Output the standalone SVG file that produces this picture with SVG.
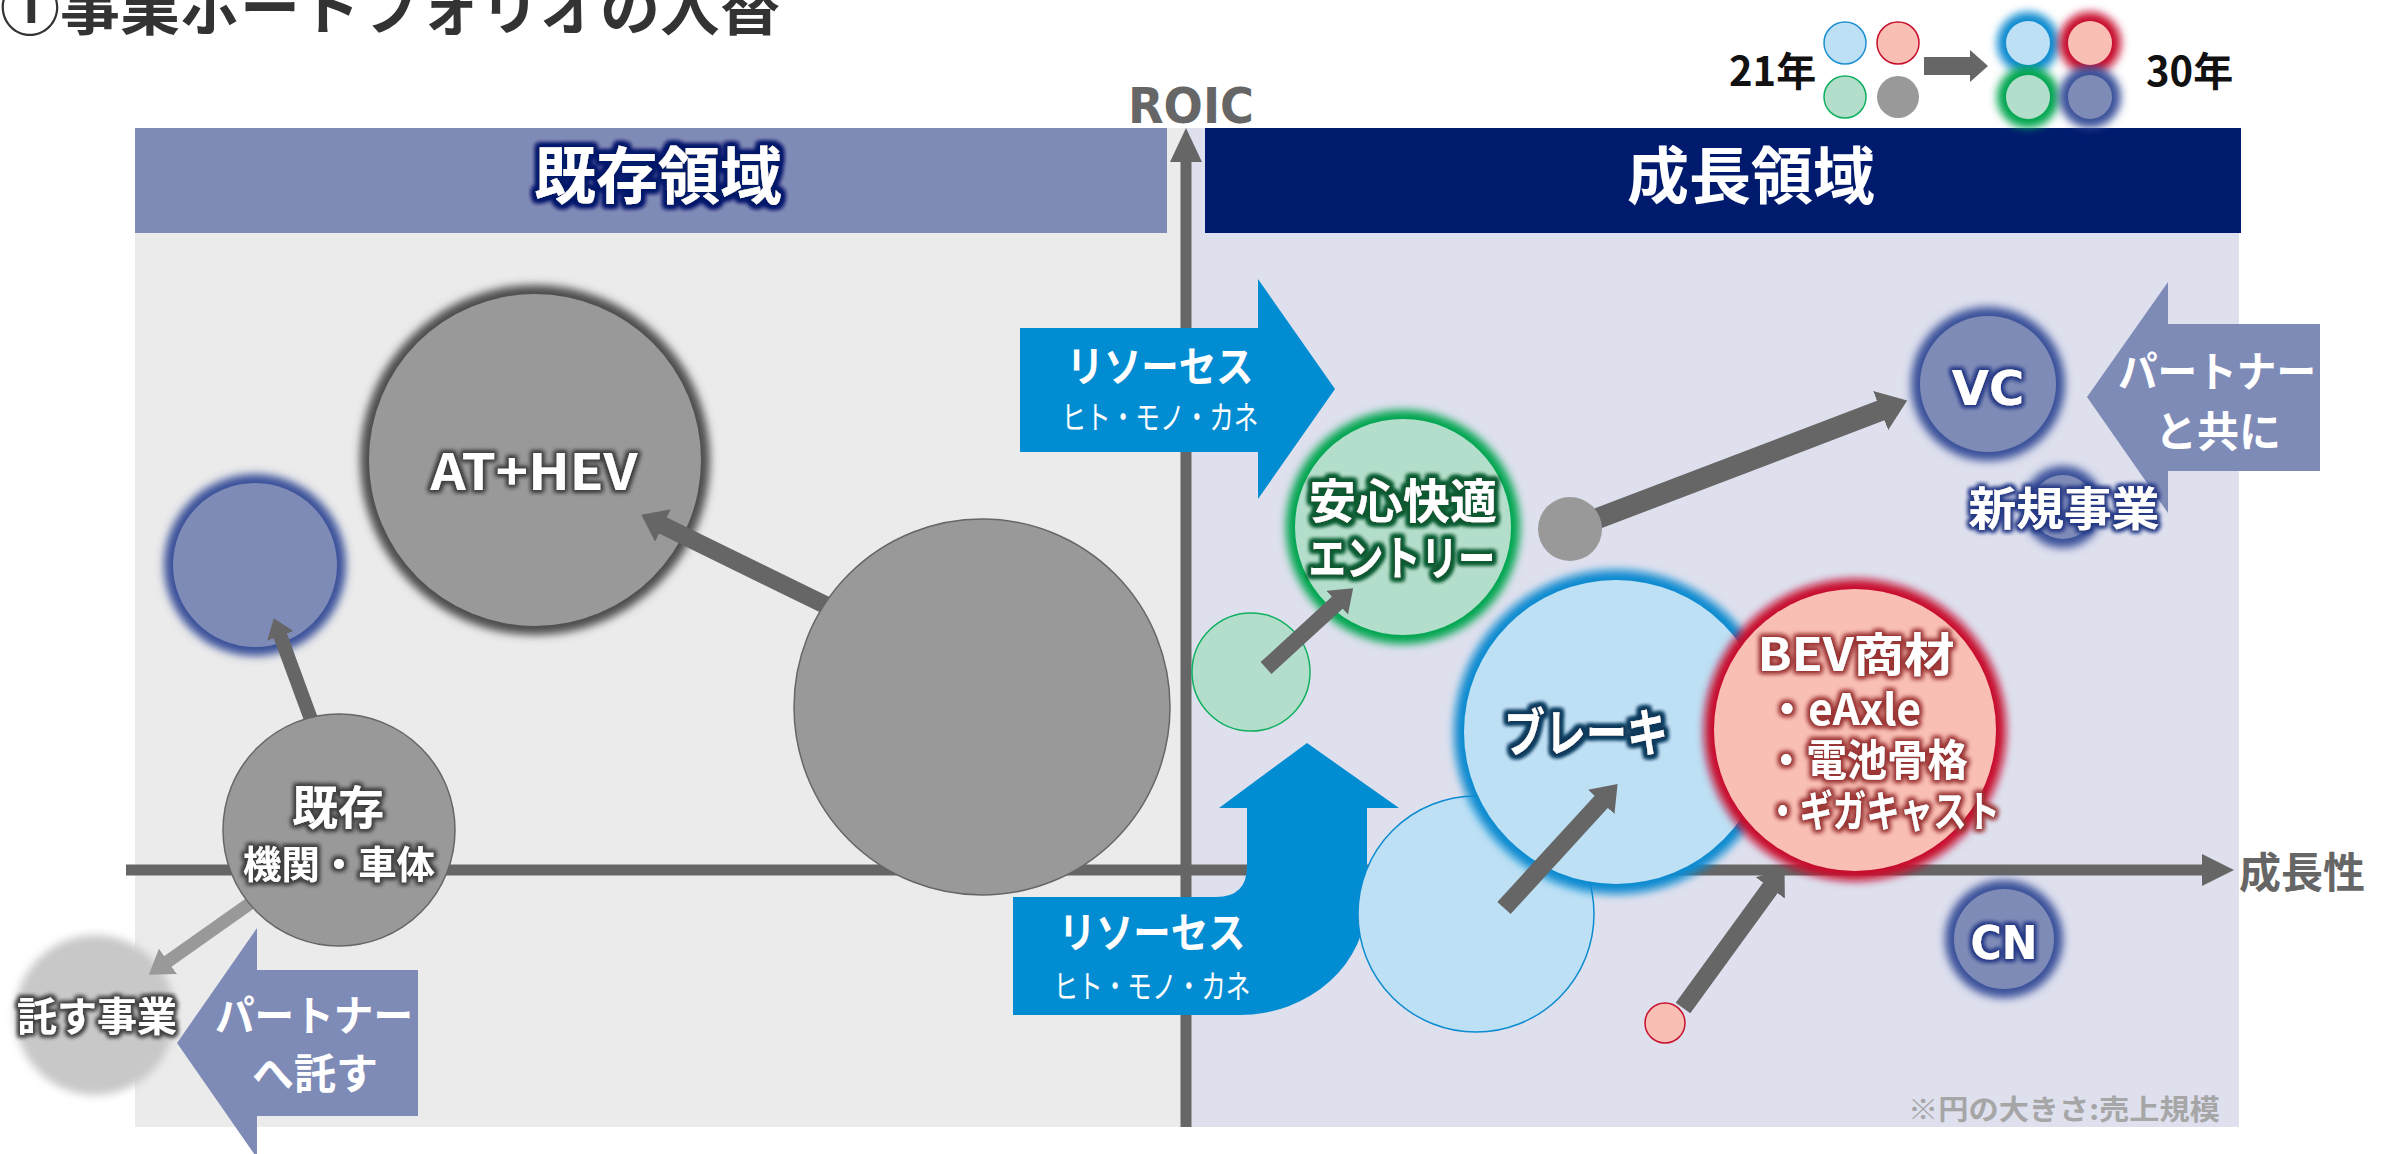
<svg xmlns="http://www.w3.org/2000/svg" width="2389" height="1154" viewBox="0 0 2389 1154">
<defs>
<style>
text { font-family: "Noto Sans CJK JP", "Noto Sans", sans-serif; font-weight: 700; }
.w { fill: #ffffff; }
.c { text-anchor: middle; }
.lat { font-family: "DejaVu Sans", "Noto Sans", sans-serif; font-weight: 700; }
.axis { stroke: #666666; stroke-width: 11; fill: none; }
.arr { stroke: #666666; fill: none; marker-end: url(#ah); }
.arrl { stroke: #999999; fill: none; marker-end: url(#ahl); }
.glow { filter: url(#blur); }
.res { fill: #028CD2; }
.partner { fill: #7F8BB7; }
</style>
<filter id="blur" x="-40%" y="-40%" width="180%" height="180%"><feGaussianBlur stdDeviation="4"/></filter>
<filter id="tGray" x="-15%" y="-40%" width="130%" height="180%">
<feMorphology in="SourceAlpha" operator="dilate" radius="2" result="d"/><feGaussianBlur in="d" stdDeviation="2" result="b"/>
<feFlood flood-color="#404040" result="f"/><feComposite in="f" in2="b" operator="in" result="g"/>
<feMerge><feMergeNode in="g"/><feMergeNode in="g"/><feMergeNode in="SourceGraphic"/></feMerge></filter>
<filter id="tNavy" x="-15%" y="-40%" width="130%" height="180%">
<feMorphology in="SourceAlpha" operator="dilate" radius="3" result="d"/><feGaussianBlur in="d" stdDeviation="2.5" result="b"/>
<feFlood flood-color="#061A6A" result="f"/><feComposite in="f" in2="b" operator="in" result="g"/>
<feMerge><feMergeNode in="g"/><feMergeNode in="g"/><feMergeNode in="g"/><feMergeNode in="SourceGraphic"/></feMerge></filter>
<filter id="tNavy2" x="-15%" y="-40%" width="130%" height="180%">
<feMorphology in="SourceAlpha" operator="dilate" radius="2" result="d"/><feGaussianBlur in="d" stdDeviation="2" result="b"/>
<feFlood flood-color="#263A86" result="f"/><feComposite in="f" in2="b" operator="in" result="g"/>
<feMerge><feMergeNode in="g"/><feMergeNode in="g"/><feMergeNode in="SourceGraphic"/></feMerge></filter>
<filter id="tGreen" x="-15%" y="-40%" width="130%" height="180%">
<feMorphology in="SourceAlpha" operator="dilate" radius="2.5" result="d"/><feGaussianBlur in="d" stdDeviation="2" result="b"/>
<feFlood flood-color="#0B5A32" result="f"/><feComposite in="f" in2="b" operator="in" result="g"/>
<feMerge><feMergeNode in="g"/><feMergeNode in="g"/><feMergeNode in="g"/><feMergeNode in="SourceGraphic"/></feMerge></filter>
<filter id="tBlue" x="-15%" y="-40%" width="130%" height="180%">
<feMorphology in="SourceAlpha" operator="dilate" radius="3" result="d"/><feGaussianBlur in="d" stdDeviation="2" result="b"/>
<feFlood flood-color="#0C3A5C" result="f"/><feComposite in="f" in2="b" operator="in" result="g"/>
<feMerge><feMergeNode in="g"/><feMergeNode in="g"/><feMergeNode in="g"/><feMergeNode in="SourceGraphic"/></feMerge></filter>
<filter id="tRed" x="-15%" y="-40%" width="130%" height="180%">
<feMorphology in="SourceAlpha" operator="dilate" radius="2" result="d"/><feGaussianBlur in="d" stdDeviation="2.5" result="b"/>
<feFlood flood-color="#9A3434" result="f"/><feComposite in="f" in2="b" operator="in" result="g"/>
<feMerge><feMergeNode in="g"/><feMergeNode in="g"/><feMergeNode in="SourceGraphic"/></feMerge></filter>
<marker id="ah" viewBox="0 -5 10 10" refX="0.5" refY="0" markerWidth="1.35" markerHeight="2.0" orient="auto" preserveAspectRatio="none"><path d="M0,-5 L10,0 L0,5 Z" fill="#666666"/></marker>
<marker id="ahl" viewBox="0 -5 10 10" refX="0.5" refY="0" markerWidth="1.8" markerHeight="2.4" orient="auto" preserveAspectRatio="none"><path d="M0,-5 L10,0 L0,5 Z" fill="#999999"/></marker>
</defs>

<g id="background">
<rect x="135" y="128" width="1051" height="999" fill="#EBEBEB"/>
<rect x="1186" y="128" width="1053" height="999" fill="#DEE0EE"/>
</g>

<g id="header-existing">
<rect x="135" y="128" width="1032" height="105" fill="#7F8BB7"/>
<text class="w c" x="658" y="199" font-size="62" filter="url(#tNavy)">既存領域</text>
</g>
<g id="header-growth">
<rect x="1205" y="128" width="1036" height="105" fill="#001A6E"/>
<text class="w c" x="1751" y="199" font-size="62">成長領域</text>
</g>

<g id="axes">
<line class="axis" x1="126" y1="870" x2="2203" y2="870"/>
<path d="M2202,854 L2234,870 L2202,886 Z" fill="#666666"/>
<line class="axis" x1="1186" y1="1127" x2="1186" y2="161"/>
<path d="M1170,162 L1186,128 L1202,162 Z" fill="#666666"/>
<text class="lat" x="1128" y="123" font-size="49" fill="#666666" textLength="126" lengthAdjust="spacingAndGlyphs">ROIC</text>
<text x="2239" y="888" font-size="42" fill="#666666">成長性</text>
</g>

<g id="title">
<text x="0" y="30" font-size="60" fill="#333333">①事業ポートフォリオの入替</text>
</g>

<g id="legend">
<text x="1729" y="86" font-size="40" fill="#111111">21年</text>
<circle cx="1845" cy="43" r="21" fill="#BDE0F5" stroke="#1E90D0" stroke-width="1.5"/>
<circle cx="1898" cy="43" r="21" fill="#F9BFB4" stroke="#C8102E" stroke-width="1.5"/>
<circle cx="1845" cy="97" r="21" fill="#B3DECB" stroke="#10B060" stroke-width="1.5"/>
<circle cx="1898" cy="97" r="21" fill="#999999"/>
<path d="M1924,57 H1970 V50 L1988,66 L1970,82 V75 H1924 Z" fill="#666666"/>
<circle class="glow" cx="2028" cy="43" r="31" fill="#0B8BD0"/>
<circle class="glow" cx="2090" cy="43" r="31" fill="#C8102E"/>
<circle class="glow" cx="2028" cy="97" r="31" fill="#00A650"/>
<circle class="glow" cx="2090" cy="97" r="31" fill="#3B519A"/>
<circle cx="2028" cy="43" r="22" fill="#BDE0F5"/>
<circle cx="2090" cy="43" r="22" fill="#F9BFB4"/>
<circle cx="2028" cy="97" r="22" fill="#B3DECB"/>
<circle cx="2090" cy="97" r="22" fill="#7F8BB7"/>
<text x="2146" y="86" font-size="40" fill="#111111">30年</text>
</g>

<g id="note">
<text x="1908" y="1120" font-size="28" fill="#A6A6A6" textLength="312" lengthAdjust="spacingAndGlyphs">※円の大きさ:売上規模</text>
</g>

<g id="resource-arrow-1">
<path class="res" d="M1020,328 H1258 V279 L1335,389 L1258,499 V452 H1020 Z"/>
<text class="w c" x="1160" y="382" font-size="42" textLength="187" lengthAdjust="spacingAndGlyphs">リソーセス</text>
<text class="w c" x="1160" y="429" font-size="32" style="font-weight:400" textLength="197" lengthAdjust="spacingAndGlyphs">ヒト・モノ・カネ</text>
</g>
<g id="resource-arrow-2">
<path class="res" d="M1013,897 H1216 Q1247,897 1247,866 V808 H1219 L1307,743 L1399,808 H1367 V900 A127,115 0 0 1 1240,1015 H1013 Z"/>
<text class="w c" x="1152" y="948" font-size="42" textLength="187" lengthAdjust="spacingAndGlyphs">リソーセス</text>
<text class="w c" x="1152" y="998" font-size="32" style="font-weight:400" textLength="197" lengthAdjust="spacingAndGlyphs">ヒト・モノ・カネ</text>
</g>

<g id="partner-left">
<path class="partner" d="M177,1043 L257,928 V970 H418 V1116 H257 V1158 Z"/>
<text class="w c" x="314" y="1031" font-size="42" textLength="198" lengthAdjust="spacingAndGlyphs">パートナー</text>
<text class="w c" x="315" y="1089" font-size="42">へ託す</text>
</g>
<g id="partner-right">
<path class="partner" d="M2087,397 L2168,282 V324 H2320 V471 H2168 V513 Z"/>
<text class="w c" x="2217" y="387" font-size="42" textLength="198" lengthAdjust="spacingAndGlyphs">パートナー</text>
<text class="w c" x="2218" y="447" font-size="42">と共に</text>
</g>

<g id="node-entrust">
<circle cx="95" cy="1015" r="80" fill="#C8C8C8" filter="url(#blur)"/>
<text class="w c" x="97" y="1031" font-size="40" filter="url(#tGray)">託す事業</text>
</g>
<g id="node-existing-future">
<circle class="glow" cx="255" cy="565" r="91" fill="#3B519A"/>
<circle cx="255" cy="565" r="82" fill="#7F8BB7"/>
</g>
<g id="node-at-hev">
<circle class="glow" cx="535" cy="460" r="175" fill="#4D4D4D"/>
<circle cx="535" cy="460" r="166" fill="#999999"/>
<text class="w c" x="534" y="490" font-size="50" textLength="207" lengthAdjust="spacingAndGlyphs" filter="url(#tGray)">AT+HEV</text>
</g>

<g id="node-comfort-21">
<circle cx="1251" cy="672" r="59" fill="#B3DECB" stroke="#10B060" stroke-width="1.5"/>
</g>
<g id="node-comfort-30">
<circle class="glow" cx="1403" cy="527" r="117" fill="#00A650"/>
<circle cx="1403" cy="527" r="108" fill="#B3DECB"/>
<text class="w c" x="1403" y="518" font-size="47" filter="url(#tGreen)">安心快適</text>
<text class="w c" x="1402" y="575" font-size="47" textLength="187" lengthAdjust="spacingAndGlyphs" filter="url(#tGreen)">エントリー</text>
</g>
<g id="node-vc">
<circle class="glow" cx="1988" cy="384" r="77" fill="#3B519A"/>
<circle cx="1988" cy="384" r="68" fill="#7F8BB7"/>
<text class="w c lat" x="1988" y="405" font-size="48" filter="url(#tNavy2)">VC</text>
</g>
<g id="node-new-business">
<circle class="glow" cx="2063" cy="507" r="41" fill="#3B519A"/>
<circle cx="2063" cy="507" r="32" fill="#7F8BB7"/>
<text class="w c" x="2064" y="525" font-size="46" textLength="191" lengthAdjust="spacingAndGlyphs" filter="url(#tNavy2)">新規事業</text>
</g>
<g id="node-cn">
<circle class="glow" cx="2004" cy="939" r="59" fill="#3B519A"/>
<circle cx="2004" cy="939" r="50" fill="#7F8BB7"/>
<text class="w c lat" x="2004" y="959" font-size="46" textLength="67" lengthAdjust="spacingAndGlyphs" filter="url(#tNavy2)">CN</text>
</g>
<g id="node-brake-21">
<circle cx="1476" cy="914" r="118" fill="#BDE0F5" stroke="#0B8BD0" stroke-width="1.5"/>
</g>
<g id="node-brake-30">
<circle class="glow" cx="1616" cy="732" r="162" fill="#0B8BD0"/>
<circle cx="1616" cy="732" r="152" fill="#BDE0F5"/>
<text class="w c" x="1586" y="752" font-size="52" textLength="164" lengthAdjust="spacingAndGlyphs" filter="url(#tBlue)">ブレーキ</text>
</g>
<g id="node-bev-21">
<circle cx="1665" cy="1023" r="20" fill="#F9BFB4" stroke="#C8102E" stroke-width="1.5"/>
</g>
<g id="node-bev-30">
<circle class="glow" cx="1855" cy="730" r="151" fill="#C8102E"/>
<circle cx="1855" cy="730" r="141" fill="#F9BFB4"/>
<text class="w c" x="1856" y="671" font-size="46" textLength="197" lengthAdjust="spacingAndGlyphs" filter="url(#tRed)">BEV商材</text>
<text class="w" x="1766" y="725" font-size="43" textLength="155" lengthAdjust="spacingAndGlyphs" filter="url(#tRed)">・eAxle</text>
<text class="w" x="1766" y="776" font-size="43" textLength="202" lengthAdjust="spacingAndGlyphs" filter="url(#tRed)">・電池骨格</text>
<text class="w" x="1766" y="827" font-size="43" textLength="234" lengthAdjust="spacingAndGlyphs" filter="url(#tRed)">・ギガキャスト</text>
</g>

<g id="connectors">
<line class="arr" x1="850" y1="617" x2="662" y2="525" stroke-width="18"/>
<line class="arr" x1="312" y1="722" x2="280" y2="635" stroke-width="14"/>
<line class="arrl" x1="252" y1="902" x2="167" y2="962" stroke-width="13"/>
<line class="arr" x1="1266" y1="668" x2="1338" y2="602" stroke-width="16"/>
<line class="arr" x1="1570" y1="529" x2="1882" y2="410" stroke-width="21"/>
<line class="arr" x1="1504" y1="908" x2="1602" y2="801" stroke-width="18"/>
<line class="arr" x1="1683" y1="1008" x2="1771" y2="887" stroke-width="18"/>
</g>

<g id="node-big-gray">
<circle cx="982" cy="707" r="188" fill="#999999" stroke="#666666" stroke-width="1.5"/>
</g>
<g id="node-existing">
<circle cx="339" cy="830" r="116" fill="#999999" stroke="#666666" stroke-width="1.5"/>
<text class="w c" x="338" y="824" font-size="46" filter="url(#tGray)">既存</text>
<text class="w c" x="339" y="878" font-size="38" textLength="192" lengthAdjust="spacingAndGlyphs" filter="url(#tGray)">機関・車体</text>
</g>
<g id="node-vc-21">
<circle cx="1570" cy="529" r="32" fill="#999999"/>
</g>
</svg>
